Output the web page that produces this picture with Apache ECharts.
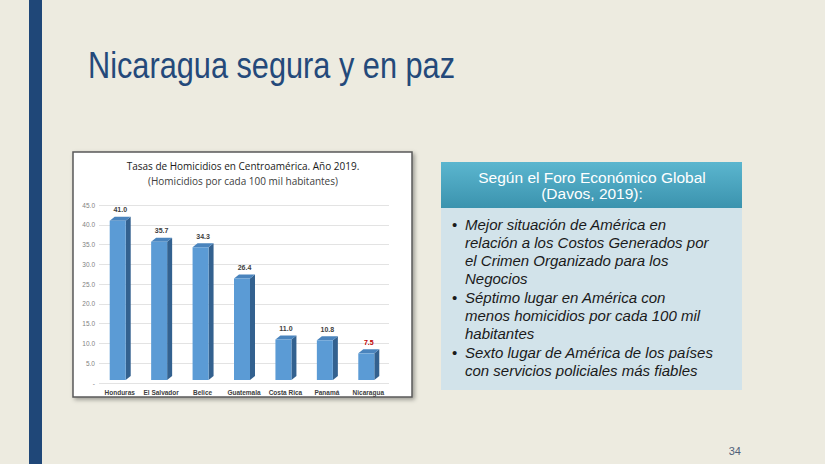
<!DOCTYPE html>
<html>
<head>
<meta charset="utf-8">
<script src="https://cdn.jsdelivr.net/npm/echarts@6/dist/echarts.min.js"></script>
<style>
  html, body { margin: 0; padding: 0; background: #edebe0; }
  #main { width: 825px; height: 464px; }
</style>
</head>
<body>
<div id="main"></div>
<script>
// data
const countries = ['Honduras', 'El Salvador', 'Belice', 'Guatemala', 'Costa Rica', 'Panamá', 'Nicaragua'];
const rates = [41.0, 35.7, 34.3, 26.4, 11.0, 10.8, 7.5];
const highlighted = 'Nicaragua';
const chartTitle = ['Tasas de Homicidios en Centroamérica. Año 2019.', '(Homicidios por cada 100 mil habitantes)'];
const boxHeader = ['Según el Foro Económico Global', '(Davos, 2019):'];
const bullets = [
  ['Mejor situación de América en', 'relación a los Costos Generados por', 'el Crimen Organizado para los', 'Negocios'],
  ['Séptimo lugar en América con', 'menos homicidios por cada 100 mil', 'habitantes'],
  ['Sexto lugar de América de los países', 'con servicios policiales más fiables']
];

const chart = echarts.init(document.getElementById('main'), null, { renderer: 'svg' });

// 3d-ish column: front face, dark side, top cap, value label
function renderBar(params, api) {
  const idx = api.value(0);
  const val = api.value(1);
  const base = api.coord([idx, 0]);
  const top = api.coord([idx, val]);
  const w = 16, dx = 5, dy = 4;
  const x0 = base[0] - w / 2 - 2;
  const yb = base[1] - 3;
  const yt = top[1];
  const isHi = countries[idx] === highlighted;
  return {
    type: 'group',
    children: [
      { type: 'polygon', shape: { points: [[x0 + w, yt], [x0 + w + dx, yt - dy], [x0 + w + dx, yb - dy], [x0 + w, yb]] },
        style: { fill: '#33618f' } },
      { type: 'polygon', shape: { points: [[x0, yt], [x0 + dx, yt - dy], [x0 + w + dx, yt - dy], [x0 + w, yt]] },
        style: { fill: '#4a84bd' } },
      { type: 'rect', shape: { x: x0, y: yt, width: w, height: yb - yt },
        style: { fill: '#5b9bd5' } },
      { type: 'text', x: x0 + (w + dx) / 2, y: yt - dy - 7,
        style: { text: val.toFixed(1), fill: isHi ? '#c00000' : '#404040', font: 'bold 7px "Liberation Sans"',
          align: 'center', verticalAlign: 'middle' } }
    ]
  };
}

const graphic = [
  { type: 'rect', shape: { x: 29, y: 0, width: 13, height: 464 }, style: { fill: '#1f4778' } },
  { type: 'text', x: 88, y: 83, scaleX: 0.83, style: { text: 'Nicaragua segura y en paz', fill: '#24497a',
      font: '37px "Liberation Sans"', verticalAlign: 'bottom' } },
  // chart frame
  { type: 'rect', z: -10, shape: { x: 73, y: 152, width: 339, height: 245 },
    style: { fill: '#ffffff', stroke: '#5a5a5a', lineWidth: 1.5, shadowBlur: 4, shadowOffsetX: 2, shadowOffsetY: 2, shadowColor: 'rgba(0,0,0,0.35)' } },
  { type: 'text', x: 243, y: 165, scaleX: 0.87, style: { text: chartTitle[0], fill: '#1a1a1a', font: '11.5px "Open Sans"', align: 'center', verticalAlign: 'middle' } },
  { type: 'text', x: 243, y: 180, scaleX: 0.87, style: { text: chartTitle[1], fill: '#404040', font: '11.5px "Open Sans"', align: 'center', verticalAlign: 'middle' } },
  // right text box
  { type: 'rect', shape: { x: 441, y: 207, width: 301, height: 183 }, style: { fill: '#d2e3ea' } },
  { type: 'rect', shape: { x: 441, y: 162, width: 301, height: 46 },
    style: { fill: new echarts.graphic.LinearGradient(0, 0, 0, 1, [{ offset: 0, color: '#5bb6cf' }, { offset: 1, color: '#3b93ae' }]) } },
  { type: 'text', x: 592, y: 177, style: { text: boxHeader[0], fill: '#ffffff', font: '15.5px "Liberation Sans"', align: 'center', verticalAlign: 'middle' } },
  { type: 'text', x: 592, y: 193, style: { text: boxHeader[1], fill: '#ffffff', font: '15.5px "Liberation Sans"', align: 'center', verticalAlign: 'middle' } },
  { type: 'text', x: 741, y: 451, style: { text: '34', fill: '#506078', font: '11px "Liberation Sans"', align: 'right', verticalAlign: 'middle' } }
];

let y = 224;
bullets.forEach(function (lines) {
  graphic.push({ type: 'text', x: 452, y: y, style: { text: '•', fill: '#1a1a1a', font: '15px "Liberation Sans"', verticalAlign: 'middle' } });
  lines.forEach(function (line) {
    graphic.push({ type: 'text', x: 465, y: y, style: { text: line, fill: '#1a1a1a', font: 'italic 15px "Liberation Sans"', verticalAlign: 'middle' } });
    y += 18;
  });
  y += 1;
});

chart.setOption({
  backgroundColor: '#edebe0',
  animation: false,
  graphic: graphic,
  grid: { left: 99, right: 436, top: 205, bottom: 81 },
  xAxis: {
    type: 'category',
    data: countries,
    axisLine: { show: false },
    axisTick: { show: false },
    axisLabel: { color: '#404040', fontSize: 6.5, fontWeight: 'bold', margin: 6, interval: 0, fontFamily: 'Liberation Sans' }
  },
  yAxis: {
    type: 'value',
    min: 0,
    max: 45,
    interval: 5,
    axisLine: { show: false },
    axisTick: { show: false },
    splitLine: { lineStyle: { color: '#e3e3e3', width: 1 } },
    axisLabel: {
      color: '#7f7f7f', fontSize: 6.5, margin: 4, fontFamily: 'Liberation Sans',
      formatter: function (v) { return v === 0 ? '-' : v.toFixed(1); }
    }
  },
  series: [{
    type: 'custom',
    renderItem: renderBar,
    data: rates.map(function (v, i) { return [i, v]; }),
    encode: { x: 0, y: 1 }
  }]
});
</script>
</body>
</html>
